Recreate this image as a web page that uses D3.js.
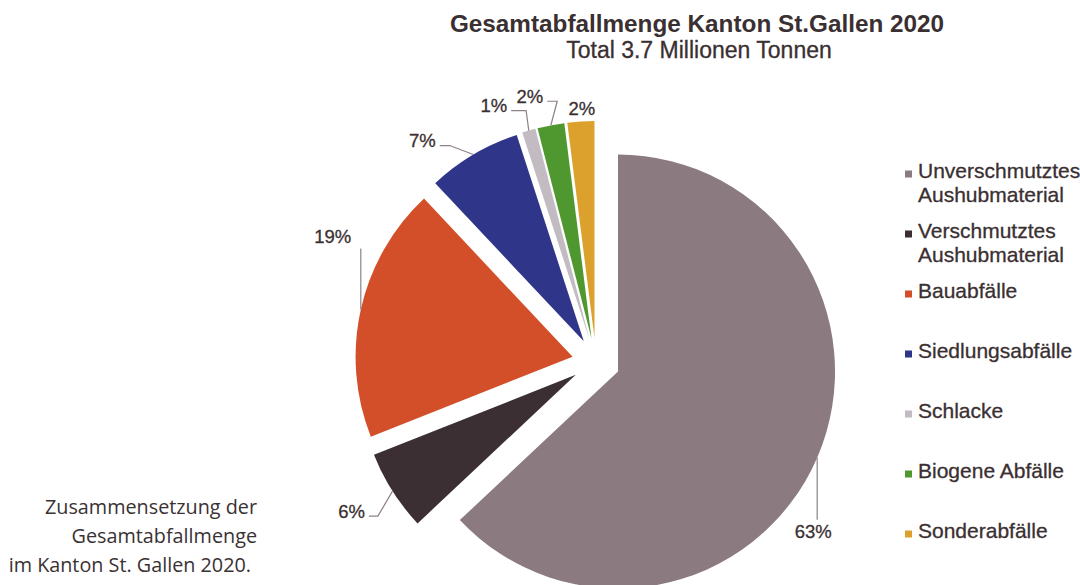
<!DOCTYPE html>
<html>
<head>
<meta charset="utf-8">
<script src="https://cdn.jsdelivr.net/npm/d3@7"></script>
<style>
  body { margin: 0; background: #fff; }
  svg { display: block; }
</style>
</head>
<body>
<div id="chart"></div>
<script>
// data
const categories = ["Unverschmutztes Aushubmaterial", "Verschmutztes Aushubmaterial", "Bauabfälle",
	"Siedlungsabfälle", "Schlacke", "Biogene Abfälle", "Sonderabfälle"];
const legendLines = [["Unverschmutztes", "Aushubmaterial"], ["Verschmutztes", "Aushubmaterial"], ["Bauabfälle"],
	["Siedlungsabfälle"], ["Schlacke"], ["Biogene Abfälle"], ["Sonderabfälle"]];
const shares = [63, 6, 19, 7, 1, 2, 2];
const pctLabels = ["63%", "6%", "19%", "7%", "1%", "2%", "2%"];
const colors = ["#8b7b80", "#3b2f33", "#d24f29", "#2f3689", "#c3bbc2", "#4f982f", "#dca12c"];

const title = "Gesamtabfallmenge Kanton St.Gallen 2020";
const subtitle = "Total 3.7 Millionen Tonnen";
const caption = ["Zusammensetzung der", "Gesamtabfallmenge", "im Kanton St. Gallen 2020."];

// label placement (offset of label centre from the leader anchor on the slice edge)
const labelDx = [-4, -41, -28, -51, -35, -21, 1];
const labelDy = [74, 20, -73, -14, -25, -29, -13];
const leaderType = ["v", "h", "v", "h", "h", "h", "none"];
const elbowLen = [0, 9, 0, 10, 15, 10, 0];
const captionShift = [0, 0, -6];

main();

function main() {
	const width = 1080;
	const height = 585;
	const cx = 596, cy = 362;
	const radius = 217;
	const explode = 24;
	const textColor = "#3a2f31";
	const lineColor = "#8d8187";

	const svg = d3.select("#chart").append("svg")
		.attr("width", width)
		.attr("height", height)
		.attr("viewBox", [0, 0, width, height]);

	// titles
	svg.append("text")
		.attr("x", 697).attr("y", 32)
		.attr("text-anchor", "middle")
		.attr("font-family", "Liberation Sans, Arial, sans-serif")
		.attr("font-weight", "bold")
		.attr("font-size", 24.3)
		.attr("fill", textColor)
		.text(title);
	svg.append("text")
		.attr("x", 699).attr("y", 58)
		.attr("text-anchor", "middle")
		.attr("font-family", "Liberation Sans, Arial, sans-serif")
		.attr("font-size", 23)
		.attr("fill", textColor)
		.attr("stroke", textColor)
		.attr("stroke-width", 0.3)
		.text(subtitle);

	// pie
	const pie = d3.pie().sort(null).value(d => d)(shares);
	const arc = d3.arc().innerRadius(0).outerRadius(radius);
	const edge = d3.arc().innerRadius(radius).outerRadius(radius);

	const mid = d => (d.startAngle + d.endAngle) / 2;
	const shift = d => [explode * Math.sin(mid(d)), -explode * Math.cos(mid(d))];

	const g = svg.append("g").attr("transform", `translate(${cx},${cy})`);

	g.selectAll("path.slice")
		.data(pie)
		.join("path")
		.attr("class", "slice")
		.attr("d", arc)
		.attr("fill", (d, i) => colors[i])
		.attr("transform", d => `translate(${shift(d)})`);

	// labels with leader lines
	const labels = g.append("g")
		.attr("font-family", "Liberation Sans, Arial, sans-serif")
		.attr("font-size", 18.5)
		.attr("fill", textColor)
		.attr("stroke", textColor)
		.attr("stroke-width", 0.3);

	pie.forEach((d, i) => {
		const s = shift(d);
		const c = edge.centroid(d);
		const anchor = [c[0] + s[0], c[1] + s[1]];
		const lx = anchor[0] + labelDx[i];
		const ly = anchor[1] + labelDy[i];

		const t = labels.append("text")
			.attr("x", lx).attr("y", ly)
			.attr("dy", "0.35em")
			.attr("text-anchor", "middle")
			.text(pctLabels[i]);
		const w = t.node().getComputedTextLength();

		let pts = null;
		if (leaderType[i] == "h") {
			const end = [lx + w / 2 + 4, ly + 5];
			pts = [anchor, [end[0] + elbowLen[i], end[1]], end];
		} else if (leaderType[i] == "v") {
			const dir = anchor[1] < ly ? -1 : 1;
			pts = [anchor, [anchor[0], ly + dir * 12]];
		}
		if (pts) {
			g.insert("polyline", "g")
				.attr("points", pts.map(p => p.join(",")).join(" "))
				.attr("fill", "none")
				.attr("stroke", lineColor)
				.attr("stroke-width", 1.2);
		}
	});

	// legend
	const legend = svg.append("g")
		.attr("font-family", "Liberation Sans, Arial, sans-serif")
		.attr("font-size", 21)
		.attr("fill", textColor)
		.attr("stroke", textColor)
		.attr("stroke-width", 0.3);

	const item = legend.selectAll("g")
		.data(categories)
		.join("g")
		.attr("transform", (d, i) => `translate(905,${178 + i * 60})`);

	item.append("rect")
		.attr("x", 0).attr("y", -7.5)
		.attr("width", 7).attr("height", 7)
		.attr("stroke", "none")
		.attr("fill", (d, i) => colors[i]);

	item.append("text")
		.attr("x", 13)
		.selectAll("tspan")
		.data((d, i) => legendLines[i])
		.join("tspan")
		.attr("x", 13)
		.attr("y", (d, j) => j * 24)
		.text(d => d);

	// caption
	svg.append("g")
		.attr("font-family", "Open Sans, Noto Sans, sans-serif")
		.attr("font-size", 19.8)
		.attr("fill", "#3a3133")
		.attr("text-anchor", "end")
		.selectAll("text")
		.data(caption)
		.join("text")
		.attr("x", (d, i) => 257 + captionShift[i])
		.attr("y", (d, i) => 514 + i * 29)
		.text(d => d);
}
</script>
</body>
</html>
